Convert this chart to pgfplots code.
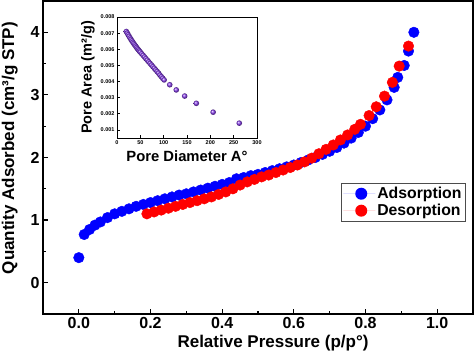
\documentclass[border=0pt]{standalone}
\usepackage{fontspec}
\setmainfont{Liberation Sans}
\usepackage{pgfplots}
\pgfplotsset{compat=1.18}
\definecolor{insetpurple}{RGB}{135,60,235}
\begin{document}
\begin{tikzpicture}
\begin{axis}[
  name=main,
  at={(0pt,0pt)}, anchor=south west,
  scale only axis, width=430pt, height=313pt,
  xmin=-0.1, xmax=1.1, ymin=-0.5, ymax=4.5,
  xtick={0,0.2,0.4,0.6,0.8,1.0},
  ytick={0,1,2,3,4},
  minor x tick num=1, minor y tick num=1,
  xtick pos=bottom, ytick pos=left,
  tick align=inside,
  major tick length=5pt, minor tick length=3pt,
  every tick/.style={black, line width=1.2pt},
  axis line style={line width=1.5pt},
  /pgf/number format/assume math mode=true,
  xticklabel style={/pgf/number format/fixed, /pgf/number format/fixed zerofill, /pgf/number format/precision=1},
  tick label style={font=\fontsize{16}{18}\selectfont\bfseries},
  label style={font=\fontsize{17}{19}\selectfont\bfseries},
  xlabel={Relative Pressure (p/p°)},
  ylabel={Quantity Adsorbed (cm³/g STP)},
  xlabel style={at={(axis description cs:0.535,0)}, anchor=south, yshift=-41pt},
  ylabel style={at={(axis description cs:-0.077,0.53)}, anchor=center},
  legend style={at={(axis description cs:0.9835,0.419)}, anchor=north east,
    font=\fontsize{15.8}{18}\selectfont\bfseries, draw=black!70, line width=0.8pt,
    row sep=0pt, inner xsep=2pt, inner ysep=2pt,
    /tikz/every even column/.append style={column sep=0pt}},
  legend image code/.code={\path[draw=none] (0pt,0pt) -- (32pt,0pt); \fill[#1, draw=none] (18pt,0pt) circle (6pt);},
  legend cell align=left,
  clip=false,
]
\addplot[only marks, mark=*, mark size=5.3pt, color=blue, fill=blue] coordinates {
(0.0,0.40) (0.015,0.77) (0.03,0.85) (0.045,0.92) (0.06,0.97) (0.08,1.04)
(0.10,1.10) (0.12,1.14) (0.14,1.18) (0.16,1.22) (0.18,1.25) (0.20,1.28)
(0.22,1.31) (0.24,1.34) (0.26,1.37) (0.28,1.40) (0.30,1.42) (0.32,1.45)
(0.34,1.48) (0.36,1.51) (0.38,1.54) (0.40,1.57) (0.42,1.60) (0.44,1.66)
(0.46,1.68) (0.48,1.71) (0.50,1.73) (0.52,1.76) (0.54,1.79) (0.56,1.82)
(0.58,1.85) (0.60,1.88) (0.62,1.92) (0.64,1.96) (0.66,2.00) (0.68,2.05)
(0.70,2.10) (0.72,2.16) (0.74,2.23) (0.76,2.31) (0.78,2.40) (0.80,2.50)
(0.82,2.62) (0.84,2.76) (0.86,2.92) (0.88,3.12) (0.89,3.28) (0.908,3.47)
(0.92,3.70) (0.935,4.00)
};
\addlegendentry{Adsorption}
\addplot[only marks, mark=*, mark size=5.3pt, color=red, fill=red] coordinates {
(0.19,1.10) (0.21,1.13) (0.23,1.16) (0.25,1.19) (0.27,1.22) (0.29,1.25)
(0.31,1.28) (0.33,1.31) (0.35,1.34) (0.37,1.37) (0.39,1.41) (0.41,1.45)
(0.43,1.50) (0.45,1.56) (0.47,1.61) (0.49,1.65) (0.51,1.69) (0.53,1.72)
(0.55,1.76) (0.57,1.80) (0.59,1.84) (0.61,1.88) (0.63,1.93) (0.65,1.99)
(0.67,2.06) (0.69,2.13) (0.71,2.20) (0.73,2.28) (0.75,2.36) (0.77,2.45)
(0.786,2.53) (0.81,2.67) (0.83,2.81) (0.853,2.98) (0.875,3.20) (0.894,3.46)
(0.92,3.78)
};
\addlegendentry{Desorption}
\end{axis}
\begin{axis}[
  at={(74pt,176pt)}, anchor=south west,
  scale only axis, width=140pt, height=121pt,
  xmin=0, xmax=300, ymin=0.0005, ymax=0.008,
  xtick={0,50,100,150,200,250,300},
  ytick={0.001,0.002,0.003,0.004,0.005,0.006,0.007,0.008},
  scaled y ticks=false,
  yticklabel style={/pgf/number format/fixed, /pgf/number format/fixed zerofill, /pgf/number format/precision=3},
  xtick pos=bottom, ytick pos=left,
  tick align=inside,
  major tick length=2.5pt,
  every tick/.style={black, line width=0.6pt},
  axis line style={line width=0.9pt},
  axis background/.style={fill=white},
  /pgf/number format/assume math mode=true,
  tick label style={font=\fontsize{5.5}{6}\selectfont\bfseries},
  xticklabel style={yshift=1pt},
  yticklabel style={xshift=1pt},
  xlabel={Pore Diameter A°},
  ylabel={Pore Area (m²/g)},
  xlabel style={font=\fontsize{14.8}{16}\selectfont\bfseries, at={(axis description cs:0.5,0)}, anchor=center, yshift=-18pt},
  ylabel style={font=\fontsize{14.5}{16}\selectfont\bfseries, at={(axis description cs:-0.207,0.5)}, anchor=center},
]
\addplot[only marks, mark=ball, mark size=2.8pt, ball color=insetpurple, draw=none] coordinates {
(20,0.00710) (22,0.00700) (24,0.00690) (26,0.00680) (28,0.00670) (30,0.00661)
(32,0.00652) (34,0.00643) (36,0.00635) (38,0.00627) (40,0.00619) (42,0.00611)
(44,0.00603) (46,0.00596) (48,0.00589) (50,0.00582) (53,0.00572) (56,0.00562)
(59,0.00552) (62,0.00542) (65,0.00532) (68,0.00522) (71,0.00512) (74,0.00502)
(77,0.00492) (80,0.00482) (83,0.00472) (86,0.00462) (89,0.00452) (92,0.00440)
(95,0.00430) (98,0.00420) (101,0.00410)
(113,0.00380) (127,0.00348) (145,0.00310) (170,0.00265) (206,0.00210) (262,0.00142)
};
\end{axis}
\pgfresetboundingbox
\path (-43pt,-38pt) rectangle (431pt,314pt);
\end{tikzpicture}
\end{document}
